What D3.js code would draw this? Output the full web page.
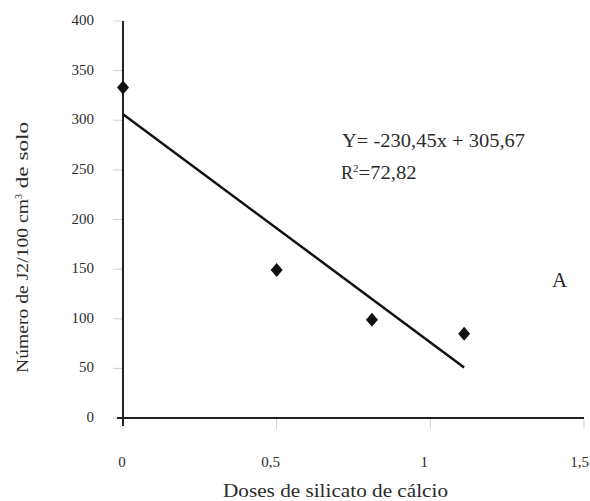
<!DOCTYPE html>
<html>
<head>
<meta charset="utf-8">
<script src="https://cdn.jsdelivr.net/npm/d3@7"></script>
<style>
  body { margin: 0; background: #fff; }
  text { font-family: "Liberation Serif", "Times New Roman", serif; fill: #2b2b2b; }
</style>
</head>
<body>
<svg id="chart" width="590" height="501"></svg>
<script>
// doses vs J2 count
const doses = [0, 0.5, 0.81, 1.11];
const counts = [333, 149, 99, 85];

// regression line end points (Y= -230,45x + 305,67)
const trendX = [0, 1.11];
const trendY = [306, 51];

const xTicks = [0, 0.5, 1, 1.5];
const yTicks = [0, 50, 100, 150, 200, 250, 300, 350, 400];

const svg = d3.select("#chart");

const x = d3.scaleLinear().domain([0, 1.5]).range([123, 584]);
const y = d3.scaleLinear().domain([0, 400]).range([418, 21]);

const fmt = d => String(d).replace(".", ",");

// faint ticks
svg.selectAll(".ytick").data(yTicks).enter()
  .append("line")
  .attr("x1", 113).attr("x2", 122)
  .attr("y1", d => y(d)).attr("y2", d => y(d))
  .attr("stroke", "#d0d0d0").attr("stroke-width", 1);

svg.selectAll(".xtick").data(xTicks).enter()
  .append("line")
  .attr("x1", d => x(d)).attr("x2", d => x(d))
  .attr("y1", 419).attr("y2", 429)
  .attr("stroke", "#d0d0d0").attr("stroke-width", 1);

// axis lines
svg.append("line")
  .attr("x1", x(0)).attr("x2", x(0))
  .attr("y1", y(400)).attr("y2", y(0) + 8)
  .attr("stroke", "#222").attr("stroke-width", 2);

svg.append("line")
  .attr("x1", x(0) - 6).attr("x2", x(1.5))
  .attr("y1", y(0)).attr("y2", y(0))
  .attr("stroke", "#222").attr("stroke-width", 2);

// tick labels
svg.selectAll(".ylab").data(yTicks).enter()
  .append("text")
  .attr("x", 94)
  .attr("y", d => y(d) + 4)
  .attr("text-anchor", "end")
  .attr("font-size", 15)
  .text(d => d);

svg.selectAll(".xlab").data(xTicks).enter()
  .append("text")
  .attr("x", (d, i) => i === xTicks.length - 1 ? 589 : x(d) - (i ? 6 : 1))
  .attr("y", 467)
  .attr("text-anchor", (d, i) => i === xTicks.length - 1 ? "end" : "middle")
  .attr("font-size", 15)
  .text(fmt);

// axis titles
svg.append("text")
  .attr("x", 223).attr("y", 497)
  .attr("font-size", 18)
  .attr("textLength", 225)
  .attr("lengthAdjust", "spacingAndGlyphs")
  .text("Doses de silicato de cálcio");

const yTitle = svg.append("text")
  .attr("transform", "translate(28,373) rotate(-90)")
  .attr("font-size", 17);
yTitle.append("tspan").attr("textLength", 174).attr("lengthAdjust", "spacingAndGlyphs").text("Número de J2/100 cm");
yTitle.append("tspan").attr("dy", -6).attr("font-size", 10).text("3");
yTitle.append("tspan").attr("dy", 6).attr("textLength", 72).attr("lengthAdjust", "spacingAndGlyphs").text(" de solo");

// trend line
const trend = trendX.map((d, i) => [d, trendY[i]]);
svg.append("path")
  .datum(trend)
  .attr("d", d3.line().x(d => x(d[0])).y(d => y(d[1])))
  .attr("stroke", "#111").attr("stroke-width", 2.5).attr("fill", "none");

// points
const pts = doses.map((d, i) => ({ dose: d, count: counts[i] }));
svg.selectAll(".pt").data(pts).enter()
  .append("path")
  .attr("d", "M0,-7 L6,0 L0,7 L-6,0 Z")
  .attr("transform", d => "translate(" + x(d.dose) + "," + y(d.count) + ")")
  .attr("fill", "#111");

// equation
svg.append("text")
  .attr("x", 342).attr("y", 147)
  .attr("font-size", 18)
  .attr("textLength", 183)
  .attr("lengthAdjust", "spacingAndGlyphs")
  .text("Y= -230,45x + 305,67");

const r2 = svg.append("text")
  .attr("x", 341).attr("y", 179)
  .attr("font-size", 18);
r2.append("tspan").text("R");
r2.append("tspan").attr("dy", -7).attr("font-size", 11).text("2");
r2.append("tspan").attr("dy", 7).attr("textLength", 58).attr("lengthAdjust", "spacingAndGlyphs").text("=72,82");

svg.append("text")
  .attr("x", 552).attr("y", 287)
  .attr("font-size", 21)
  .text("A");
</script>
</body>
</html>
